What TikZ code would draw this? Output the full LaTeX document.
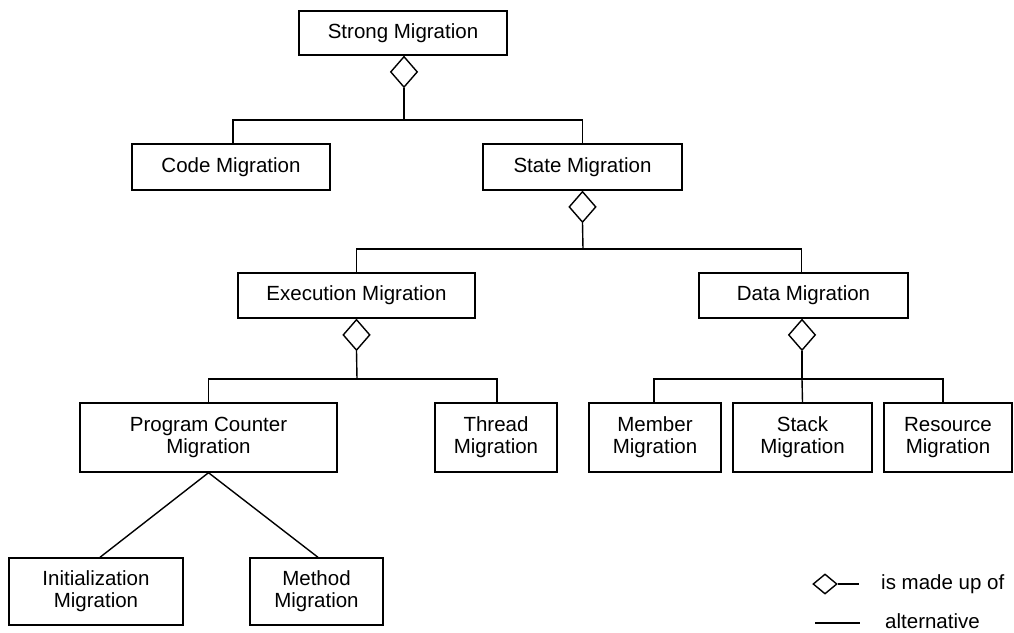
\documentclass[tikz,border=0pt]{standalone}
\usepackage{fontspec}
\setmainfont{Liberation Sans}
\usetikzlibrary{shapes.geometric}
\begin{document}
\begin{tikzpicture}[x=1pt,y=-1pt,
  box/.style={draw=black,line width=1.4pt,rectangle,inner sep=0pt,align=center,
    font=\fontsize{20.5}{22}\selectfont},
  agg/.style={draw=black,line width=1.4pt,diamond,inner sep=0pt,minimum width=27pt,minimum height=31pt,fill=white},
  link/.style={draw=black,line width=1.4pt},
  lab/.style={font=\fontsize{20.5}{22}\selectfont,inner sep=0pt,anchor=west}]
\useasboundingbox (0,0) rectangle (1014,632);

% boxes
\node[box,minimum width=208pt,minimum height=44pt] (strong) at (403,33) {Strong Migration};
\node[box,minimum width=198pt,minimum height=46pt] (code) at (231,167) {Code Migration};
\node[box,minimum width=199pt,minimum height=46pt] (state) at (582.5,167) {State Migration};
\node[box,minimum width=237pt,minimum height=45pt] (exec) at (356.5,295.5) {Execution Migration};
\node[box,minimum width=209pt,minimum height=45pt] (data) at (803.5,295.5) {Data Migration};
\node[box,minimum width=257pt,minimum height=69pt] (pc) at (208.5,437.5) {Program Counter\\Migration};
\node[box,minimum width=122pt,minimum height=69pt] (thread) at (496,437.5) {Thread\\Migration};
\node[box,minimum width=132pt,minimum height=69pt] (member) at (655,437.5) {Member\\Migration};
\node[box,minimum width=139pt,minimum height=69pt] (stack) at (802.5,437.5) {Stack\\Migration};
\node[box,minimum width=128pt,minimum height=69pt] (resource) at (948,437.5) {Resource\\Migration};
\node[box,minimum width=174pt,minimum height=67pt] (init) at (96,591.5) {Initialization\\Migration};
\node[box,minimum width=133pt,minimum height=67pt] (method) at (316.5,591.5) {Method\\Migration};

% aggregation diamonds
\node[agg,anchor=north] (d1) at ([xshift=1pt]strong.south) {};
\node[agg,anchor=north] (d2) at (state.south) {};
\node[agg,anchor=north] (d3) at (exec.south) {};
\node[agg,anchor=north] (d4) at ([xshift=-1.5pt]data.south) {};

% junctions
\coordinate (j1) at (404,120);
\coordinate (j2) at (583,249);
\coordinate (j3) at (357,379);
\coordinate (j4) at (802,379);

\draw[link] (d1.south) -- (j1);
\draw[link] ([xshift=2pt]code.north) |- (j1) -| (state.north);
\draw[link] (d2.south) -- (j2);
\draw[link] (exec.north) |- (j2) -| ([xshift=-2pt]data.north);
\draw[link] (d3.south) -- (j3);
\draw[link] (pc.north) |- (j3) -| ([xshift=1pt]thread.north);
\draw[link] (d4.south) -- (j4);
\draw[link] ([xshift=-1pt]member.north) |- (j4) -| ([xshift=-5pt]resource.north);
\draw[link] (j4) -- (stack.north);

\draw[link] (pc.south) -- ([xshift=4pt]init.north);
\draw[link] (pc.south) -- ([xshift=1.5pt]method.north);

% legend
\node[agg,minimum width=24pt,minimum height=20pt] (ld) at (825,584) {};
\coordinate (le1) at (859,584);
\draw[link] (ld.east) -- (le1);
\node[lab] (lt1) at (881,584) {is made up of};
\coordinate (la1) at (815,623);
\coordinate (la2) at (860,623);
\draw[link] (la1) -- (la2);
\node[lab] (lt2) at (885,621.5) {alternative};
\end{tikzpicture}
\end{document}
